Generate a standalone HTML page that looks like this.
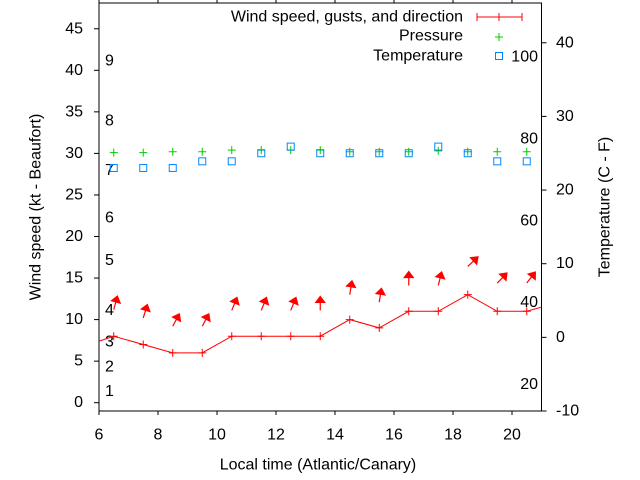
<!DOCTYPE html>
<html><head><meta charset="utf-8"><style>
body{margin:0;background:#fff}
svg{display:block;font-family:"Liberation Sans",sans-serif}
</style></head><body>
<svg id="chart" width="640" height="480" viewBox="0 0 640 480">
<rect width="640" height="480" fill="#fff"/>
<g id="marks"></g>
</svg>
<script>
const hours = [6.5,7.5,8.5,9.5,10.5,11.5,12.5,13.5,14.5,15.5,16.5,17.5,18.5,19.5,20.5];
const windLineX = [5.5,6.5,7.5,8.5,9.5,10.5,11.5,12.5,13.5,14.5,15.5,16.5,17.5,18.5,19.5,20.5,21.5];
const windLineY = [6.8,8,7,6,6,8,8,8,8,10,9,11,11,13,11,11,12];
const gusts = [11.2,10.2,9.2,9.2,11.1,11.1,11.1,11.1,13,12.1,14.1,14.1,16.4,14.4,14.4];
const gustDir = [15,17,28,28,22,22,22,0,9,9,0,14,47,44,38];
const pressure = [30.1,30.1,30.2,30.2,30.4,30.4,30.4,30.4,30.2,30.2,30.2,30.3,30.2,30.2,30.2];
const temperature = [23,23,23,23.9,23.9,25,25.9,25,25,25,25,25.9,25,23.9,23.9];
const xTicks = [6,8,10,12,14,16,18,20];
const yTicks = [0,5,10,15,20,25,30,35,40,45];
const y2Ticks = [-10,0,10,20,30,40];
const beaufort = [1,2,3,4,5,6,7,8,9];
const beaufortKt = [1.2,4.2,7.2,11,17,22.1,27.8,33.8,41];
const fahrenheit = [20,40,60,80,100];

const L=99,R=541.5,T=3,B=411,FS=16;
const X=v=>L+(v-6)/(21-6)*(R-L);
const Y=v=>B-(v+1)/(48.1+1)*(B-T);
const Y2=v=>B-(v+10)/(45.4+10)*(B-T);
const NS='http://www.w3.org/2000/svg';
const g=document.getElementById('marks');
function mk(tag,attrs,parent){const e=document.createElementNS(NS,tag);for(const k in attrs)e.setAttribute(k,attrs[k]);(parent||g).appendChild(e);return e;}
function txt(s,x,y,anchor,name,extra){const e=mk('text',Object.assign({x:x,y:y,'font-size':FS,fill:'#000','text-anchor':anchor||'start','dominant-baseline':'central'},extra||{}));e.textContent=s;


return e;}

const fr=mk('rect',{x:L,y:T,width:R-L,height:B-T,fill:'none',stroke:'#000','stroke-width':1});



xTicks.forEach(v=>{
 const t=mk('path',{d:`M${X(v)},${B}v4M${X(v)},${T}v-4`,stroke:'#000'});
 
 
 txt(String(v),X(v),435,'middle','x-tick-label');
});
yTicks.forEach(v=>{
 const t=mk('path',{d:`M${L},${Y(v)}h-5`,stroke:'#000'});
 
 
 txt(String(v),83,Y(v),'end','y-tick-label');
});
y2Ticks.forEach(v=>{
 const t=mk('path',{d:`M${R},${Y2(v)}h5`,stroke:'#000'});
 
 
 txt(String(v),556,Y2(v),'start','y2-tick-label');
});
beaufort.forEach((b,i)=>{txt(String(b),105,Y(beaufortKt[i])-1,'start','beaufort-label');});
fahrenheit.forEach(f=>{txt(String(f),538,Y2((f-32)*5/9)-2,'end','fahrenheit-label');});

txt('Local time (Atlantic/Canary)',318,465,'middle','x-axis-title');
txt('Wind speed (kt - Beaufort)',36,207,'middle','y-axis-title',{transform:'rotate(-90 36 207)'});
txt('Temperature (C - F)',605,207,'middle','y2-axis-title',{transform:'rotate(-90 605 207)'});

const cp=mk('clipPath',{id:'clip'});mk('rect',{x:L,y:T,width:R-L,height:B-T},cp);
const pg=mk('g',{'clip-path':'url(#clip)'});



const pts=windLineX.map((x,i)=>X(x)+','+Y(windLineY[i])).join(' ');
const wl=mk('polyline',{points:pts,fill:'none',stroke:'#f00','stroke-width':1},pg);


windLineX.forEach((x,i)=>{
 const p=mk('path',{d:`M${X(x)-4},${Y(windLineY[i])}h8M${X(x)},${Y(windLineY[i])-4}v8`,stroke:'#f00'},pg);
 
 
});
hours.forEach((h,i)=>{
 const x0=X(h),y0=Y(gusts[i]),a=gustDir[i]*Math.PI/180,len=14;
 const dx=Math.sin(a),dy=-Math.cos(a);
 const x1=x0+dx*len,y1=y0+dy*len;
 const hl=6,hw=4.5;
 const bx=x1-dx*hl,by=y1-dy*hl;
 const ga=mk('g',{},pg);
 
 
 mk('line',{x1:x0,y1:y0,x2:bx,y2:by,stroke:'#f00','stroke-width':1.2},ga);
 mk('polygon',{points:`${x1},${y1} ${bx-dy*hw},${by+dx*hw} ${bx+dy*hw},${by-dx*hw}`,fill:'#f00',stroke:'#f00','stroke-width':1.2},ga);
});
hours.forEach((h,i)=>{
 const x=X(h),y=Y(pressure[i]);
 const p=mk('path',{d:`M${x-4},${y}h8M${x},${y-4}v8`,stroke:'#0c0'},pg);
 
 
});
hours.forEach((h,i)=>{
 const x=X(h),y=Y2(temperature[i]);
 const p=mk('rect',{x:x-3.5,y:y-3.5,width:7,height:7,fill:'none',stroke:'#08f'},pg);
 
 
});

const lg=mk('g',{});


txt('Wind speed, gusts, and direction',463,17,'end','legend-wind-label');
const ls=mk('path',{d:'M477,17h45M477,13v8M522,13v8M499,13v8',stroke:'#f00'},lg);


txt('Pressure',463,36,'end','legend-pressure-label');
const ps=mk('path',{d:'M495,37h8M499,33v8',stroke:'#0c0'},lg);


txt('Temperature',463,56,'end','legend-temperature-label');
const ts=mk('rect',{x:495.5,y:52.5,width:7,height:7,fill:'none',stroke:'#08f'},lg);


</script>
</body></html>
